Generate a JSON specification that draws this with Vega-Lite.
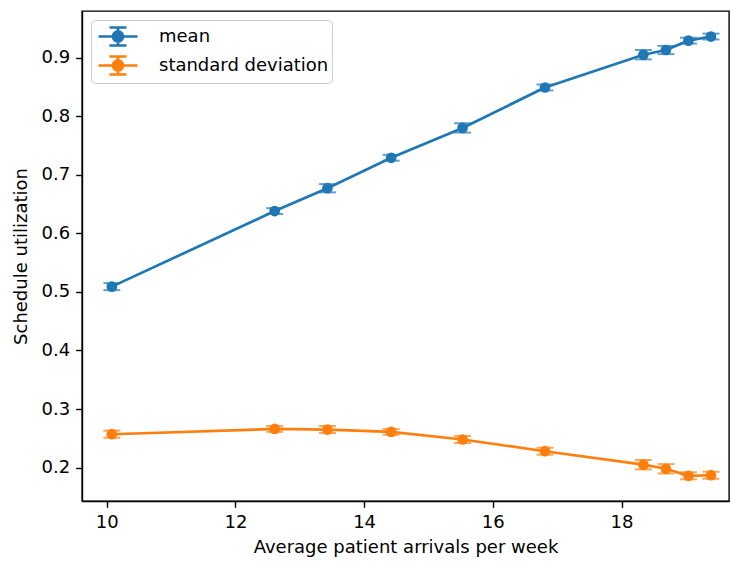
{
  "$schema": "https://vega.github.io/schema/vega-lite/v6.json",
  "width": 647,
  "height": 490,
  "autosize": {"type": "none"},
  "padding": {"left": 82, "top": 11, "right": 2, "bottom": 61},
  "background": "white",
  "data": {
    "values": [
      {"arrivals": 10.08, "value": 0.509, "err": 0.006, "stat": "mean"},
      {"arrivals": 12.61, "value": 0.638, "err": 0.005, "stat": "mean"},
      {"arrivals": 13.43, "value": 0.677, "err": 0.007, "stat": "mean"},
      {"arrivals": 14.42, "value": 0.729, "err": 0.005, "stat": "mean"},
      {"arrivals": 15.53, "value": 0.780, "err": 0.008, "stat": "mean"},
      {"arrivals": 16.81, "value": 0.849, "err": 0.005, "stat": "mean"},
      {"arrivals": 18.34, "value": 0.905, "err": 0.008, "stat": "mean"},
      {"arrivals": 18.69, "value": 0.913, "err": 0.007, "stat": "mean"},
      {"arrivals": 19.04, "value": 0.929, "err": 0.005, "stat": "mean"},
      {"arrivals": 19.39, "value": 0.936, "err": 0.005, "stat": "mean"},
      {"arrivals": 10.08, "value": 0.257, "err": 0.006, "stat": "standard deviation"},
      {"arrivals": 12.61, "value": 0.266, "err": 0.005, "stat": "standard deviation"},
      {"arrivals": 13.43, "value": 0.265, "err": 0.006, "stat": "standard deviation"},
      {"arrivals": 14.42, "value": 0.261, "err": 0.005, "stat": "standard deviation"},
      {"arrivals": 15.53, "value": 0.248, "err": 0.006, "stat": "standard deviation"},
      {"arrivals": 16.81, "value": 0.228, "err": 0.006, "stat": "standard deviation"},
      {"arrivals": 18.34, "value": 0.205, "err": 0.008, "stat": "standard deviation"},
      {"arrivals": 18.69, "value": 0.198, "err": 0.008, "stat": "standard deviation"},
      {"arrivals": 19.04, "value": 0.186, "err": 0.006, "stat": "standard deviation"},
      {"arrivals": 19.39, "value": 0.187, "err": 0.006, "stat": "standard deviation"}
    ]
  },
  "encoding": {
    "x": {
      "field": "arrivals",
      "type": "quantitative",
      "title": "Average patient arrivals per week",
      "scale": {"domain": [9.616, 19.67], "nice": false, "zero": false},
      "axis": {"values": [10, 12, 14, 16, 18], "titlePadding": 7}
    },
    "y": {
      "field": "value",
      "type": "quantitative",
      "title": "Schedule utilization",
      "scale": {"domain": [0.143, 0.9796], "nice": false, "zero": false},
      "axis": {"values": [0.2, 0.3, 0.4, 0.5, 0.6, 0.7, 0.8, 0.9], "format": ".1f", "titlePadding": 11}
    },
    "color": {
      "field": "stat",
      "type": "nominal",
      "scale": {"domain": ["mean", "standard deviation"], "range": ["#1f77b4", "#ff7f0e"]},
      "legend": {
        "title": null,
        "orient": "top-left",
        "offset": 9,
        "padding": 3,
        "rowPadding": 0,
        "fillColor": "rgba(255,255,255,0.8)",
        "strokeColor": "#cccccc",
        "cornerRadius": 4,
        "symbolType": "M-0.75,0H2.5M0.875,-0.75V0.75M0.165,-0.75H1.585M0.165,0.75H1.585M1.295,0A0.42,0.42 0 1,1 0.455,0A0.42,0.42 0 1,1 1.295,0Z",
        "symbolSize": 576,
        "symbolStrokeWidth": 2.7,
        "symbolOpacity": 1,
        "labelOffset": 38,
        "labelLimit": 400,
        "labelFont": "DejaVu Sans",
        "labelFontSize": 18,
        "labelColor": "#000000",
        "encode": {
          "symbols": {
            "update": {
              "fill": {"scale": "color", "field": "value"},
              "stroke": {"scale": "color", "field": "value"},
              "opacity": {"value": 1}
            }
          }
        }
      }
    }
  },
  "layer": [
    {
      "mark": {"type": "line", "strokeWidth": 2.7}
    },
    {
      "mark": {
        "type": "errorbar",
        "ticks": {"size": 17, "thickness": 2},
        "rule": {"strokeWidth": 2.7}
      },
      "encoding": {
        "yError": {"field": "err"}
      }
    },
    {
      "mark": {"type": "point", "filled": true, "size": 115, "opacity": 1}
    }
  ],
  "config": {
    "view": {"stroke": "#000000", "strokeWidth": 1.4},
    "axis": {
      "grid": false,
      "domainColor": "#000000",
      "domainWidth": 1.4,
      "tickColor": "#000000",
      "tickWidth": 1.4,
      "tickSize": 6.3,
      "labelPadding": 6,
      "labelFont": "DejaVu Sans",
      "labelFontSize": 18,
      "labelColor": "#000000",
      "titleFont": "DejaVu Sans",
      "titleFontSize": 18,
      "titleFontWeight": "normal",
      "titleColor": "#000000"
    }
  }
}
